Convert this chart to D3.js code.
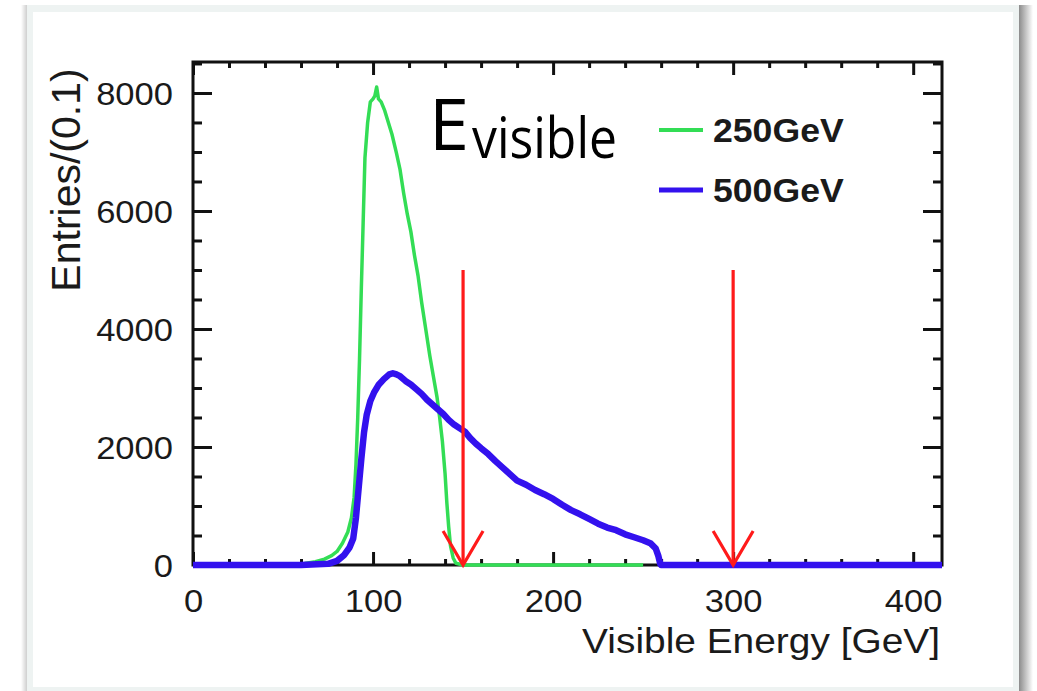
<!DOCTYPE html>
<html>
<head>
<meta charset="utf-8">
<script src="https://cdn.jsdelivr.net/npm/d3@7"></script>
<style>
  html, body { margin: 0; padding: 0; background: #ffffff; }
  svg { display: block; }
  text { font-family: "Liberation Sans", Arial, Helvetica, sans-serif; }
  text.anno { font-family: "Open Sans", "Noto Sans", sans-serif; }
</style>
</head>
<body>
<svg id="chart" width="1037" height="691"></svg>
<script>
// ---------------- data ----------------
const green250X = [0, 40, 55, 62, 68, 73, 77, 80, 83, 86, 88, 89.5, 90.5, 91.5, 92.5, 93.5, 94.5, 95.5, 97, 98.5, 100, 101, 102, 103, 104.5, 106.5, 108.5, 110.5, 113, 115, 117, 119, 121, 123, 125, 127, 129, 131.5, 133.5, 135.5, 137, 138.5, 140, 141, 142, 143, 144.5, 146, 150, 200, 250];
const green250Y = [0, 0, 10, 25, 55, 100, 160, 230, 370, 560, 800, 1150, 1700, 2500, 3500, 4700, 5800, 6900, 7500, 7850, 7900, 7950, 8100, 7900, 7850, 7700, 7500, 7300, 6980, 6700, 6300, 5950, 5650, 5250, 4900, 4450, 4050, 3550, 3200, 2850, 2500, 2100, 1550, 1050, 650, 330, 120, 30, 0, 0, 0];

const blue500X = [0, 60, 75, 80, 84, 87, 89, 90.5, 92, 93.5, 95, 96.5, 98.5, 100.5, 103, 106, 109, 111, 113, 115, 118, 121, 124, 127, 130, 133, 136, 139, 142, 145, 148, 151, 154, 157, 160, 164, 168, 172, 176, 180, 185, 190, 195, 200, 205, 210, 215, 220, 225, 230, 235, 240, 245, 250, 254, 257, 258.5, 259.5, 260, 300, 416];
const blue500Y = [0, 0, 20, 70, 170, 300, 450, 800, 1300, 1800, 2250, 2550, 2780, 2920, 3050, 3150, 3230, 3250, 3230, 3200, 3120, 3060, 2980, 2900, 2800, 2720, 2640, 2560, 2460, 2380, 2320, 2260, 2150, 2060, 1980, 1880, 1760, 1650, 1540, 1430, 1360, 1270, 1200, 1120, 1020, 930, 860, 780, 700, 635, 590, 520, 470, 420, 370, 280, 150, 20, 0, 0, 0];

const seriesNames = ["250GeV", "500GeV"];
const cutArrowsX = [150, 300];
const cutArrowTop = 5000;

const xMajorTicks = [0, 100, 200, 300, 400];
const xMinorTicks = d3.range(0, 420, 20).filter(v => v % 100 !== 0);
const yMajorTicks = [0, 2000, 4000, 6000, 8000];
const yMinorTicks = d3.range(0, 8600, 500).filter(v => v % 2000 !== 0);

const xTitle = "Visible Energy [GeV]";
const yTitle = "Entries/(0.1)";

// ---------------- layout ----------------
const svg = d3.select("#chart");
const defs = svg.append("defs");
const gr = defs.append("linearGradient").attr("id", "shR");
gr.append("stop").attr("offset", "0%").attr("stop-color", "#8c8c8c");
gr.append("stop").attr("offset", "100%").attr("stop-color", "#ffffff");
const gl = defs.append("linearGradient").attr("id", "shL");
gl.append("stop").attr("offset", "0%").attr("stop-color", "#ffffff");
gl.append("stop").attr("offset", "100%").attr("stop-color", "#cfcfcf");

// card frame
svg.append("rect").attr("x", 1019).attr("y", 5).attr("width", 14).attr("height", 700).attr("fill", "url(#shR)");
svg.append("rect").attr("x", 21).attr("y", 5).attr("width", 6).attr("height", 700).attr("fill", "url(#shL)");
svg.append("rect").attr("x", 27).attr("y", 5).attr("width", 992).attr("height", 700).attr("fill", "#eef3f2");
svg.append("rect").attr("x", 33).attr("y", 12).attr("width", 980).attr("height", 675).attr("fill", "#ffffff");

const L = 193, R = 942, T = 62, B = 565;
const x = d3.scaleLinear().domain([0, 416]).range([L, R]);
const y = d3.scaleLinear().domain([0, 8525]).range([B, T]);

const ink = "#111";

function styleAxis(g) {
  g.select(".domain").remove();
  g.selectAll(".tick line").attr("stroke", ink).attr("stroke-width", 3);
}

// bottom major
const gxB = svg.append("g").attr("transform", `translate(0,${B})`)
  .call(d3.axisBottom(x).tickValues(xMajorTicks).tickSize(-13).tickFormat(d3.format("d")));
styleAxis(gxB);
gxB.selectAll(".tick text")
  .attr("y", 0).attr("dy", 0)
  .attr("transform", "translate(0,47) scale(1.08,1)")
  .attr("font-size", 32).attr("fill", "#1a1a1a");
// bottom minor
styleAxis(svg.append("g").attr("transform", `translate(0,${B})`)
  .call(d3.axisBottom(x).tickValues(xMinorTicks).tickSize(-6).tickFormat("")));
// top
styleAxis(svg.append("g").attr("transform", `translate(0,${T})`)
  .call(d3.axisTop(x).tickValues(xMajorTicks).tickSize(-13).tickFormat("")));
styleAxis(svg.append("g").attr("transform", `translate(0,${T})`)
  .call(d3.axisTop(x).tickValues(xMinorTicks).tickSize(-6).tickFormat("")));

// left major
const gyL = svg.append("g").attr("transform", `translate(${L},0)`)
  .call(d3.axisLeft(y).tickValues(yMajorTicks).tickSize(-19).tickFormat(d3.format("d")));
styleAxis(gyL);
gyL.selectAll(".tick text")
  .attr("x", 0).attr("dy", "0.36em")
  .attr("transform", "translate(-20,0) scale(1.08,1)")
  .attr("font-size", 32).attr("fill", "#1a1a1a");
styleAxis(svg.append("g").attr("transform", `translate(${L},0)`)
  .call(d3.axisLeft(y).tickValues(yMinorTicks).tickSize(-9).tickFormat("")));
// right
styleAxis(svg.append("g").attr("transform", `translate(${R},0)`)
  .call(d3.axisRight(y).tickValues(yMajorTicks).tickSize(-19).tickFormat("")));
styleAxis(svg.append("g").attr("transform", `translate(${R},0)`)
  .call(d3.axisRight(y).tickValues(yMinorTicks).tickSize(-9).tickFormat("")));

// frame
svg.append("rect").attr("x", L).attr("y", T).attr("width", R - L).attr("height", B - T)
  .attr("fill", "none").attr("stroke", ink).attr("stroke-width", 3);

// titles
svg.append("text").text(xTitle)
  .attr("transform", `translate(940,653) scale(1.08,1)`)
  .attr("text-anchor", "end").attr("font-size", 36).attr("fill", "#1a1a1a");
svg.append("text").text(yTitle)
  .attr("transform", `translate(80,180) rotate(-90)`)
  .attr("text-anchor", "middle").attr("font-size", 41).attr("fill", "#1a1a1a");

// curves
const green = "#33dd55", blue = "#3311ee", red = "#ff1a1a";
const line = d3.line().x(d => x(d[0])).y(d => y(d[1]));
svg.append("path").datum(d3.zip(green250X, green250Y))
  .attr("d", line).attr("fill", "none").attr("stroke", green)
  .attr("stroke-width", 3.5).attr("stroke-linejoin", "round");
svg.append("path").datum(d3.zip(blue500X, blue500Y))
  .attr("d", line).attr("fill", "none").attr("stroke", blue)
  .attr("stroke-width", 6.5).attr("stroke-linejoin", "round");

// cut arrows
cutArrowsX.forEach(cx => {
  const g = svg.append("g").attr("stroke", red).attr("stroke-width", 3.2).attr("fill", "none");
  g.append("line").attr("x1", x(cx)).attr("x2", x(cx)).attr("y1", y(cutArrowTop)).attr("y2", y(0));
  g.append("path").attr("d", `M${x(cx) - 20},${y(0) - 34} L${x(cx)},${y(0)} L${x(cx) + 20},${y(0) - 34}`);
});

// legend
const legColors = [green, blue];
seriesNames.forEach((name, i) => {
  const ly = 130 + i * 60;
  svg.append("line").attr("x1", 659).attr("x2", 703).attr("y1", ly).attr("y2", ly)
    .attr("stroke", legColors[i]).attr("stroke-width", i === 0 ? 4 : 5);
  svg.append("text").text(name)
    .attr("transform", `translate(713,${ly + 12}) scale(1.08,1)`)
    .attr("font-size", 33).attr("font-weight", "bold").attr("fill", "#1a1a1a");
});

// E_visible annotation
svg.append("text").attr("class", "anno").text("E").attr("x", 429).attr("y", 150)
  .attr("font-size", 72).attr("fill", "#000");
svg.append("text").attr("class", "anno").text("visible").attr("x", 472).attr("y", 158)
  .attr("font-size", 56)
  .attr("textLength", 145).attr("lengthAdjust", "spacingAndGlyphs").attr("fill", "#000");
</script>
</body>
</html>
